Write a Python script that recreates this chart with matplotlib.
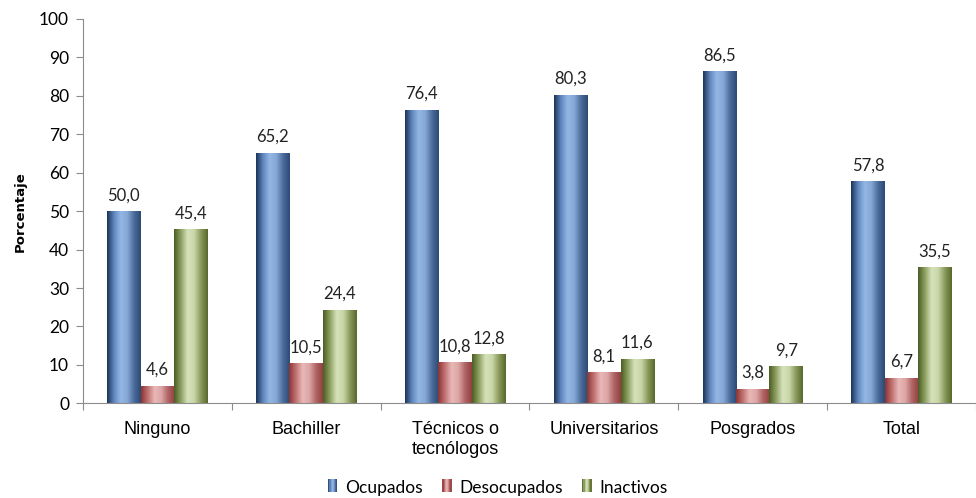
import numpy as np
import matplotlib
matplotlib.use('Agg')
from matplotlib import pyplot as plt
from matplotlib.patches import Rectangle
from matplotlib.legend_handler import HandlerBase
from matplotlib.colors import LinearSegmentedColormap

categorias = ['Ninguno', 'Bachiller', 'Técnicos o\ntecnólogos', 'Universitarios', 'Posgrados', 'Total']
ocupados = [50.0, 65.2, 76.4, 80.3, 86.5, 57.8]
desocupados = [4.6, 10.5, 10.8, 8.1, 3.8, 6.7]
inactivos = [45.4, 24.4, 12.8, 11.6, 9.7, 35.5]
series = ['Ocupados', 'Desocupados', 'Inactivos']

# gradiente: oscuro - claro - medio
gradientes = [
    ['#1c3559', '#5f86bd', '#93b6e4', '#86a8d6', '#4c6d9d', '#2c4a74'],
    ['#8c3535', '#c27272', '#e8b8b7', '#dda6a5', '#b06666', '#953f3f'],
    ['#4c5e25', '#8ea161', '#d6e2bb', '#c8d6a6', '#8a9a5c', '#58692c'],
]
cmaps = [LinearSegmentedColormap.from_list(f'g{i}', c) for i, c in enumerate(gradientes)]

plt.rcParams['font.family'] = ['Lato', 'DejaVu Sans']
fig = plt.figure(figsize=(9.76, 4.98), dpi=100)
ax = fig.add_axes([0.085, 0.19, 0.915, 0.772])

x = np.arange(len(categorias))
w = 0.225
datos = [ocupados, desocupados, inactivos]
grad = np.linspace(0, 1, 64).reshape(1, -1)
for j, vals in enumerate(datos):
    pos = x + (j - 1) * w
    bars = ax.bar(pos, vals, width=w, color='none', edgecolor='none', zorder=2)
    for b, v in zip(bars, vals):
        x0 = b.get_x()
        im = ax.imshow(grad, cmap=cmaps[j], aspect='auto',
                       extent=(x0, x0 + w, 0, v), zorder=2, interpolation='bicubic')
        im.set_clip_path(b)
        ax.text(x0 + w / 2, v + 2.0, f'{v:.1f}'.replace('.', ','),
                ha='center', va='bottom', fontsize=12, color='#222222')

ax.set_xlim(-0.5, 5.453)
ax.set_ylim(0, 100)
ax.set_yticks(range(0, 101, 10))
ax.set_xticks(np.arange(-0.5, 6, 1), minor=False)
ax.set_xticklabels([])
ax.set_xticks(x, minor=True)
ax.set_xticklabels(categorias, minor=True, fontsize=13, family=['Liberation Sans'],
                   linespacing=1.2)
ax.tick_params(axis='x', which='minor', length=0, pad=13)
ax.tick_params(axis='x', which='major', length=5, color='#8c8c8c', direction='out')
ax.tick_params(axis='y', length=5, color='#8c8c8c', labelsize=12.5, pad=5)
for s in ['top', 'right']:
    ax.spines[s].set_visible(False)
for s in ['left', 'bottom']:
    ax.spines[s].set_color('#8c8c8c')
ax.set_ylabel('Porcentaje', fontsize=9.5, fontweight='bold', family=['DejaVu Sans'])
ax.yaxis.set_label_coords(-0.063, 0.5)


class HandlerGrad(HandlerBase):
    def __init__(self, cmap):
        super().__init__()
        self.cmap = cmap

    def create_artists(self, legend, orig, xd, yd, width, height, fontsize, trans):
        n = 8
        arts = []
        for k in range(n):
            r = Rectangle((xd + width * k / n, yd), width / n + 0.3, height,
                          facecolor=self.cmap((k + 0.5) / n), edgecolor='none',
                          transform=trans)
            arts.append(r)
        return arts


handles = [Rectangle((0, 0), 1, 1) for _ in series]
fig.legend(handles, series, loc='lower center', bbox_to_anchor=(0.51, -0.028),
           ncol=3, frameon=False, fontsize=12.5, handlelength=0.5, handleheight=0.85,
           handletextpad=0.45, columnspacing=1.15,
           handler_map={h: HandlerGrad(c) for h, c in zip(handles, cmaps)})

fig.savefig('out.png', dpi=100)
